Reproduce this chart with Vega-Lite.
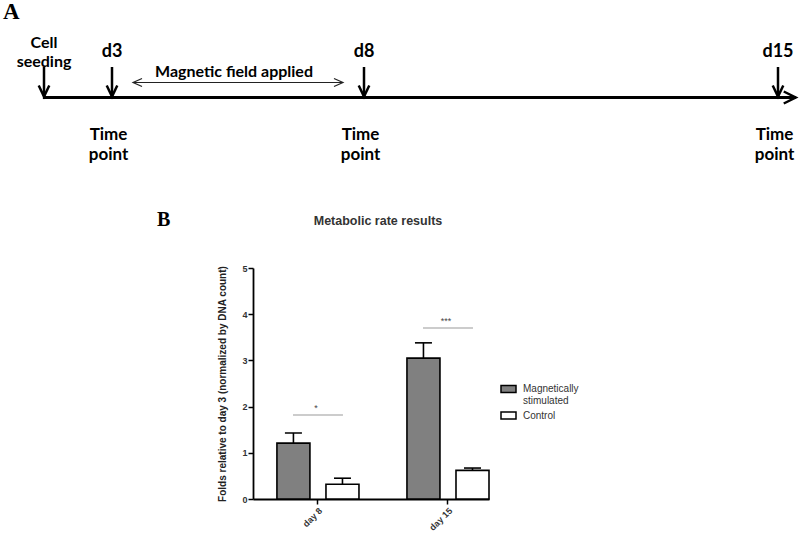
{
  "$schema": "https://vega.github.io/schema/vega-lite/v6.json",
  "padding": 0,
  "background": "white",
  "spacing": 0,
  "bounds": "flush",
  "config": {"view": {"stroke": null}, "font": "Liberation Sans"},
  "datasets": {
    "events": [
      {"day": 0, "label": "Cell seeding"},
      {"day": 3, "label": "d3"},
      {"day": 8, "label": "d8"},
      {"day": 15, "label": "d15"}
    ],
    "timepoints": [
      {"day": 3, "label": "Time point"},
      {"day": 8, "label": "Time point"},
      {"day": 15, "label": "Time point"}
    ],
    "field": [{"start": 3.417, "end": 7.583, "label": "Magnetic field applied"}],
    "timeline": [{"start": -0.05, "end": 15.3}],
    "bars": [
      {"day": "day 8", "group": "Magnetically stimulated", "value": 1.21, "upper": 1.43},
      {"day": "day 8", "group": "Control", "value": 0.32, "upper": 0.45},
      {"day": "day 15", "group": "Magnetically stimulated", "value": 3.05, "upper": 3.38},
      {"day": "day 15", "group": "Control", "value": 0.62, "upper": 0.67}
    ],
    "sig": [
      {"day": "day 8", "level": 1.82, "label": "*"},
      {"day": "day 15", "level": 3.7, "label": "***"}
    ]
  },
  "vconcat": [
    {
      "width": 800,
      "height": 268,
      "layer": [
        {
          "data": {"name": "timeline"},
          "mark": {"type": "rule", "strokeWidth": 3.2, "color": "black"},
          "encoding": {
            "x": {"field": "start", "type": "quantitative", "scale": {"domain": [0, 3, 8, 15], "range": [44, 112, 364, 778], "zero": false, "nice": false}, "axis": null},
            "x2": {"field": "end"},
            "y": {"datum": 97.5, "type": "quantitative", "scale": {"domain": [0, 268], "range": [0, 268], "zero": false, "nice": false}, "axis": null}
          }
        },
        {
          "data": {"name": "timeline"},
          "mark": {"type": "point", "shape": "M-1,-0.5L0,0L-1,0.5", "size": 576, "filled": false, "strokeWidth": 2.5, "color": "black", "opacity": 1},
          "encoding": {
            "x": {"field": "end", "type": "quantitative", "axis": null},
            "y": {"datum": 97.5, "type": "quantitative", "axis": null}
          }
        },
        {
          "data": {"name": "events"},
          "mark": {"type": "rule", "strokeWidth": 2.5, "color": "black"},
          "encoding": {
            "x": {"field": "day", "type": "quantitative", "axis": null},
            "y": {"datum": 67, "type": "quantitative", "axis": null},
            "y2": {"datum": 96}
          }
        },
        {
          "data": {"name": "events"},
          "mark": {"type": "point", "shape": "M-0.48,-1L0,0L0.48,-1", "size": 484, "filled": false, "strokeWidth": 2.5, "color": "black", "opacity": 1},
          "encoding": {
            "x": {"field": "day", "type": "quantitative", "axis": null},
            "y": {"datum": 96.5, "type": "quantitative", "axis": null}
          }
        },
        {
          "data": {"name": "events"},
          "transform": [{"filter": "datum.label != 'Cell seeding'"}],
          "mark": {"type": "text", "font": "Lato", "fontSize": 18, "fontWeight": "bold", "baseline": "alphabetic", "align": "center", "color": "black"},
          "encoding": {
            "x": {"field": "day", "type": "quantitative", "axis": null},
            "y": {"datum": 57, "type": "quantitative", "axis": null},
            "text": {"field": "label"}
          }
        },
        {
          "data": {"name": "events"},
          "transform": [{"filter": "datum.label == 'Cell seeding'"}],
          "mark": {"type": "text", "font": "Lato", "fontSize": 16, "fontWeight": "bold", "baseline": "alphabetic", "align": "center", "lineBreak": " ", "lineHeight": 19, "color": "black"},
          "encoding": {
            "x": {"field": "day", "type": "quantitative", "axis": null},
            "y": {"datum": 48, "type": "quantitative", "axis": null},
            "text": {"field": "label"}
          }
        },
        {
          "data": {"name": "field"},
          "mark": {"type": "rule", "strokeWidth": 1.2, "color": "#222"},
          "encoding": {
            "x": {"field": "start", "type": "quantitative", "axis": null},
            "x2": {"field": "end"},
            "y": {"datum": 82.5, "type": "quantitative", "axis": null}
          }
        },
        {
          "data": {"name": "field"},
          "mark": {"type": "point", "shape": "M1,-0.45L0,0L1,0.45", "size": 324, "filled": false, "strokeWidth": 1.2, "color": "#222", "opacity": 1},
          "encoding": {
            "x": {"field": "start", "type": "quantitative", "axis": null},
            "y": {"datum": 82.5, "type": "quantitative", "axis": null}
          }
        },
        {
          "data": {"name": "field"},
          "mark": {"type": "point", "shape": "M-1,-0.45L0,0L-1,0.45", "size": 324, "filled": false, "strokeWidth": 1.2, "color": "#222", "opacity": 1},
          "encoding": {
            "x": {"field": "end", "type": "quantitative", "axis": null},
            "y": {"datum": 82.5, "type": "quantitative", "axis": null}
          }
        },
        {
          "data": {"name": "field"},
          "mark": {"type": "text", "font": "Lato", "fontSize": 16, "fontWeight": "bold", "baseline": "alphabetic", "align": "center", "dx": -4, "color": "black"},
          "encoding": {
            "x": {"datum": 5.5, "type": "quantitative", "axis": null},
            "y": {"datum": 77, "type": "quantitative", "axis": null},
            "text": {"field": "label"}
          }
        },
        {
          "data": {"name": "timepoints"},
          "mark": {"type": "text", "font": "Lato", "fontSize": 17, "fontWeight": "bold", "baseline": "alphabetic", "align": "center", "lineBreak": " ", "lineHeight": 20, "dx": -3.5, "color": "black"},
          "encoding": {
            "x": {"field": "day", "type": "quantitative", "axis": null},
            "y": {"datum": 140, "type": "quantitative", "axis": null},
            "text": {"field": "label"}
          }
        },
        {
          "data": {"values": [{"label": "A"}]},
          "mark": {"type": "text", "font": "Liberation Serif", "fontSize": 23, "fontWeight": "bold", "baseline": "alphabetic", "align": "left", "color": "black"},
          "encoding": {
            "x": {"datum": -1.81, "type": "quantitative", "axis": null},
            "y": {"datum": 19, "type": "quantitative", "axis": null},
            "text": {"field": "label"}
          }
        },
        {
          "data": {"values": [{"label": "B"}]},
          "mark": {"type": "text", "font": "Liberation Serif", "fontSize": 20, "fontWeight": "bold", "baseline": "alphabetic", "align": "left", "color": "black"},
          "encoding": {
            "x": {"datum": 3.893, "type": "quantitative", "axis": null},
            "y": {"datum": 226, "type": "quantitative", "axis": null},
            "text": {"field": "label"}
          }
        }
      ]
    },
    {
      "spacing": 0,
      "bounds": "flush",
      "hconcat": [
        {
          "width": 253,
          "height": 231,
          "data": {"values": [{}]},
          "mark": {"type": "text"},
          "encoding": {"text": {"value": ""}}
        },
        {
          "width": 236,
          "height": 231,
          "title": {"text": "Metabolic rate results", "fontSize": 12.5, "fontWeight": "bold", "color": "#333", "font": "Liberation Sans", "anchor": "middle", "offset": 27, "baseline": "alphabetic", "dx": 7},
          "data": {"name": "bars"},
          "layer": [
            {
              "mark": {"type": "bar", "stroke": "black", "strokeWidth": 1.6},
              "encoding": {
                "x": {
                  "field": "day", "type": "nominal",
                  "scale": {"domain": ["day 8", "day 15"], "paddingInner": 0.369, "paddingOuter": 0.092, "align": 1},
                  "axis": {"title": null, "labelAngle": -45, "labelFont": "Liberation Sans", "labelFontSize": 9, "labelFontWeight": "bold", "labelColor": "#333", "tickSize": 5, "tickColor": "black", "tickWidth": 1.5, "domainColor": "black", "domainWidth": 1.8, "labelPadding": 2}
                },
                "xOffset": {"field": "group", "type": "nominal", "scale": {"domain": ["Magnetically stimulated", "Control"], "paddingInner": 0.327, "paddingOuter": 0}},
                "y": {
                  "field": "value", "type": "quantitative",
                  "scale": {"domain": [0, 5], "nice": false},
                  "axis": {"values": [0, 1, 2, 3, 4, 5], "title": "Folds relative to day 3 (normalized by DNA count)", "titleFont": "Liberation Sans", "titleFontSize": 10, "titleFontWeight": "bold", "titleColor": "#222", "titlePadding": 14, "labelFont": "Liberation Sans", "labelFontSize": 9, "labelFontWeight": "bold", "labelColor": "#333", "labelPadding": 1, "tickSize": 5, "tickColor": "black", "tickWidth": 1.5, "domainColor": "black", "domainWidth": 1.8, "grid": false}
                },
                "fill": {
                  "field": "group", "type": "nominal",
                  "scale": {"domain": ["Magnetically stimulated", "Control"], "range": ["#808080", "#ffffff"]},
                  "legend": {"title": null, "orient": "none", "legendX": 500, "legendY": 380.5, "symbolType": "M-1,-0.467H1V0.467H-1Z", "symbolSize": 225, "symbolStrokeColor": "black", "symbolStrokeWidth": 1.5, "symbolOpacity": 1, "labelFont": "Liberation Sans", "labelFontSize": 10, "labelColor": "#333", "labelOffset": 6, "rowPadding": 0.5, "padding": 0, "labelExpr": "datum.label == 'Magnetically stimulated' ? ['Magnetically', 'stimulated'] : datum.label"}
                }
              }
            },
            {
              "mark": {"type": "rule", "strokeWidth": 1.6, "color": "black"},
              "encoding": {
                "x": {"field": "day", "type": "nominal"},
                "xOffset": {"field": "group", "type": "nominal"},
                "y": {"field": "value", "type": "quantitative"},
                "y2": {"field": "upper"}
              }
            },
            {
              "mark": {"type": "tick", "thickness": 1.6, "size": 17, "color": "black", "opacity": 1},
              "encoding": {
                "x": {"field": "day", "type": "nominal"},
                "xOffset": {"field": "group", "type": "nominal"},
                "y": {"field": "upper", "type": "quantitative"}
              }
            },
            {
              "data": {"name": "sig"},
              "mark": {"type": "tick", "thickness": 1, "size": 50, "color": "#999", "opacity": 1},
              "encoding": {
                "x": {"field": "day", "type": "nominal"},
                "y": {"field": "level", "type": "quantitative"}
              }
            },
            {
              "data": {"name": "sig"},
              "mark": {"type": "text", "fontSize": 9, "color": "#444", "dy": -7, "dx": -2, "baseline": "middle"},
              "encoding": {
                "x": {"field": "day", "type": "nominal"},
                "y": {"field": "level", "type": "quantitative"},
                "text": {"field": "label"}
              }
            }
          ]
        }
      ]
    }
  ]
}
